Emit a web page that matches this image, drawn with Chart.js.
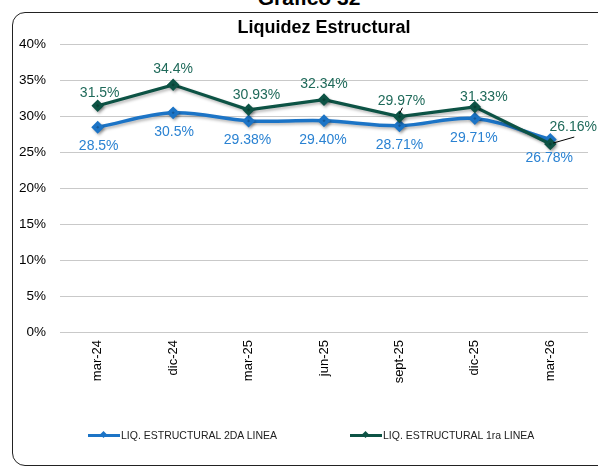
<!DOCTYPE html>
<html>
<head>
<meta charset="utf-8">
<title>Liquidez Estructural</title>
<script src="https://cdn.jsdelivr.net/npm/chart.js@4.4.1/dist/chart.umd.min.js"></script>
<style>
  html, body { margin: 0; padding: 0; background: #fff; }
  body { width: 598px; height: 468px; position: relative; overflow: hidden;
         font-family: "Liberation Sans", Arial, sans-serif; }
  .pageTitle { position: absolute; top: -14px; left: 0; width: 618px; text-align: center;
               font-weight: bold; font-size: 21px; line-height: 24px; color: #000; }
  .frame { position: absolute; left: 12px; top: 12px; width: 620px; height: 454px;
           border: 1.5px solid #222; border-radius: 13px; box-sizing: border-box; }
  #wrap { position: absolute; left: 0; top: 0; width: 598px; height: 468px; }
  #legend { position: absolute; left: 88px; top: 428px; display: flex; gap: 73px;
            font-size: 10.5px; color: #222; }
  #legend .item { display: flex; align-items: center; height: 14px; }
  #legend .line { position: relative; width: 32px; height: 3px; margin-right: 1px; }
  #legend .dot { position: absolute; left: 13px; top: -2px; width: 5px; height: 5px; transform: rotate(45deg); }
</style>
</head>
<body>
<div class="pageTitle">Gráfico 32</div>
<div class="frame"></div>
<div id="wrap"><canvas id="myChart" width="598" height="468"></canvas></div>
<div id="legend"></div>
<script>
  // values (kept as strings so the labels keep their decimals)
  const labels = ['mar-24', 'dic-24', 'mar-25', 'jun-25', 'sept-25', 'dic-25', 'mar-26'];
  const linea2 = ['28.5', '30.5', '29.38', '29.40', '28.71', '29.71', '26.78'];
  const linea1 = ['31.5', '34.4', '30.93', '32.34', '29.97', '31.33', '26.16'];
  const yTicks = [0, 5, 10, 15, 20, 25, 30, 35, 40];

  const BLUE = '#1c74c6';
  const GREEN = '#0d5345';

  // label nudges (px) so they sit like the original
  const offs2 = [[1, 19], [1, 19], [-1, 19], [-1, 19], [0, 19], [-1, 20], [-1, 19]];
  const offs1 = [[2, -13], [0, -16], [8, -15], [0, -15], [2, -16], [9, -10], [23, -17]];

  const shadowPlugin = {
    id: 'lineShadow',
    beforeDatasetDraw(chart) {
      const c = chart.ctx;
      c.save();
      c.shadowColor = 'rgba(0,0,0,0.28)';
      c.shadowBlur = 3;
      c.shadowOffsetX = 1.5;
      c.shadowOffsetY = 2;
    },
    afterDatasetDraw(chart) { chart.ctx.restore(); }
  };

  const valueLabels = {
    id: 'valueLabels',
    afterDatasetsDraw(chart) {
      const c = chart.ctx;
      c.save();
      c.font = '14px "Liberation Sans", Arial, sans-serif';
      c.textAlign = 'center';
      c.textBaseline = 'middle';
      chart.data.datasets.forEach((ds, di) => {
        const meta = chart.getDatasetMeta(di);
        meta.data.forEach((pt, i) => {
          const o = ds.labelOffsets[i];
          c.fillStyle = ds.labelColor;
          c.fillText(ds.data[i] + '%', pt.x + o[0], pt.y + o[1]);
        });
      });
      // little leader lines used in the original
      const g = chart.getDatasetMeta(1).data;
      c.strokeStyle = '#000';
      c.lineWidth = 1;
      c.beginPath();
      c.moveTo(g[4].x + 3, g[4].y - 9);
      c.lineTo(g[4].x, g[4].y - 3);
      c.moveTo(g[6].x + 24, g[6].y - 7);
      c.lineTo(g[6].x + 3, g[6].y - 1);
      c.stroke();
      c.restore();
    }
  };

  const data = {
    labels,
    datasets: [
      {
        label: 'LIQ. ESTRUCTURAL 2DA LINEA',
        data: linea2,
        borderColor: BLUE,
        backgroundColor: BLUE,
        borderWidth: 3.5,
        tension: 0.35,
        pointStyle: 'rectRot',
        pointRadius: 4,
        order: 1,
        labelColor: '#2a82d2',
        labelOffsets: offs2,
      },
      {
        label: 'LIQ. ESTRUCTURAL 1ra LINEA',
        data: linea1,
        borderColor: GREEN,
        backgroundColor: GREEN,
        borderWidth: 3.2,
        tension: 0,
        pointStyle: 'rectRot',
        pointRadius: 4,
        order: 0,
        labelColor: '#1f6a5a',
        labelOffsets: offs1,
      }
    ]
  };

  const config = {
    type: 'line',
    data,
    options: {
      responsive: false,
      animation: false,
      layout: { padding: { left: 0, right: 10, top: 15, bottom: 56 } },
      plugins: {
        legend: { display: false },
        tooltip: { enabled: false },
        title: {
          display: true,
          fullSize: false,
          text: 'Liquidez Estructural',
          color: '#000',
          font: { family: '"Liberation Sans", Arial, sans-serif', size: 18, weight: 'bold' },
          padding: { top: 2, bottom: 6 }
        }
      },
      scales: {
        x: {
          offset: true,
          grid: { display: false, drawTicks: false },
          border: { display: false },
          ticks: {
            color: '#000',
            minRotation: 90,
            maxRotation: 90,
            padding: 8,
            font: { family: '"Liberation Sans", Arial, sans-serif', size: 13 }
          },
          afterFit(scale) { scale.height = 80; }
        },
        y: {
          min: 0,
          max: 40,
          afterBuildTicks(scale) { scale.ticks = yTicks.map(v => ({ value: v })); },
          grid: { color: '#c9c9c9', lineWidth: 1, drawTicks: false },
          border: { display: false },
          ticks: {
            color: '#000',
            padding: 14,
            callback: v => v + '%',
            font: { family: '"Liberation Sans", Arial, sans-serif', size: 13.5 }
          },
          afterFit(scale) { scale.width = 60; }
        }
      }
    },
    plugins: [shadowPlugin, valueLabels]
  };

  const ctx = document.getElementById('myChart');
  const myChart = new Chart(ctx, config);

  // html legend built from the datasets
  const legendEl = document.getElementById('legend');
  myChart.data.datasets.forEach(ds => {
    const item = document.createElement('div');
    item.className = 'item';
    item.innerHTML = '<span class="line" style="background:' + ds.borderColor + '">' +
      '<span class="dot" style="background:' + ds.borderColor + '"></span></span>' +
      '<span>' + ds.label + '</span>';
    legendEl.appendChild(item);
  });
</script>
</body>
</html>
